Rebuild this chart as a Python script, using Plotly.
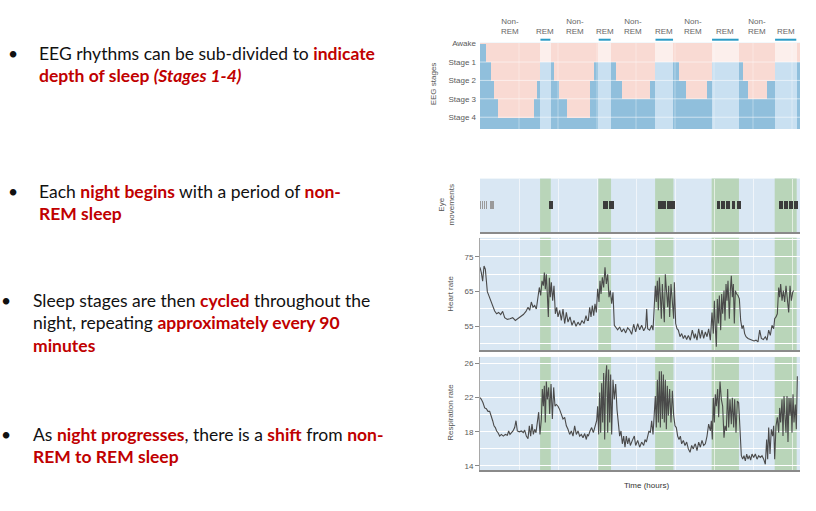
import plotly.graph_objects as go

W, H = 816, 511

# ---------------- data ----------------
# hypnogram segments (hours) and stage
hyp_start = [0.000, 0.154, 0.282, 0.359, 0.470, 1.385, 1.470, 1.540, 1.815, 1.906, 2.034, 2.239, 2.821, 2.923,
             3.034, 3.360, 3.487, 3.650, 4.359, 4.490, 4.960, 5.111, 5.274, 5.829, 5.940, 6.640, 6.752, 6.880,
             7.368, 7.556, 8.120]
hyp_end = hyp_start[1:] + [8.205]
hyp_stage = ["Awake", "S1", "S2", "S3", "S4", "S3", "S2", "REM", "S1", "S2", "S3", "S4", "S2", "S1",
             "REM", "S1", "S2", "S3", "S2", "REM", "S1", "S2", "S3", "S2", "REM", "S1", "S2", "S3",
             "S2", "REM", "S1"]
stage_level = {"Awake": 4, "S1": 3, "S2": 2, "S3": 1, "S4": 0, "REM": 3}
stage_ticks = ["Awake", "Stage 1", "Stage 2", "Stage 3", "Stage 4"]
stage_tickvals = [4, 3, 2, 1, 0]

rem_start = [1.540, 3.034, 4.490, 5.940, 7.556]
rem_end = [1.815, 3.360, 4.960, 6.640, 8.120]

# eye movement bursts (hours)
eye_faint = [(0.01, 0.025), (0.06, 0.075), (0.11, 0.125), (0.16, 0.175), (0.27, 0.285), (0.32, 0.335)]
eye_bursts = [(1.77, 1.86), (3.16, 3.28), (3.30, 3.43), (4.57, 4.76), (4.79, 4.99),
              (6.08, 6.15), (6.18, 6.27), (6.30, 6.42), (6.45, 6.55), (6.58, 6.70),
              (7.66, 7.76), (7.79, 7.90), (7.93, 8.03), (8.06, 8.16)]

heart_rate = [
    (0.000, 72.0), (0.034, 70.5), (0.068, 68.0), (0.103, 72.4), (0.137, 71.5), (0.162, 67.0), (0.188, 65.0),
    (0.222, 64.0), (0.256, 62.9), (0.291, 62.0), (0.325, 60.5), (0.376, 59.4), (0.427, 58.6), (0.479, 59.0),
    (0.530, 58.4), (0.581, 59.3), (0.632, 57.5), (0.701, 57.0), (0.769, 57.2), (0.838, 57.5), (0.906, 56.7),
    (0.974, 57.2), (1.043, 57.9), (1.111, 58.4), (1.179, 59.3), (1.231, 60.5), (1.274, 59.6), (1.316, 62.0),
    (1.359, 60.5), (1.402, 61.0), (1.444, 60.0), (1.487, 62.9), (1.521, 66.2), (1.556, 63.9), (1.590, 68.1),
    (1.624, 66.7), (1.650, 70.5), (1.675, 65.7), (1.701, 70.0), (1.726, 64.3), (1.752, 57.7), (1.778, 69.0),
    (1.803, 63.4), (1.829, 67.7), (1.863, 62.4), (1.897, 66.7), (1.932, 58.6), (1.966, 60.5), (2.000, 57.7),
    (2.043, 59.6), (2.085, 56.7), (2.128, 60.0), (2.171, 55.8), (2.214, 59.0), (2.256, 56.2), (2.308, 57.7),
    (2.359, 55.3), (2.410, 56.7), (2.462, 55.0), (2.513, 56.2), (2.564, 55.3), (2.615, 56.7), (2.667, 55.8),
    (2.718, 58.1), (2.752, 56.7),
    (2.778, 56.7), (2.812, 60.5), (2.846, 57.7), (2.880, 61.0), (2.915, 58.1), (2.949, 61.5), (2.983, 59.0),
    (3.017, 65.8), (3.051, 62.0), (3.077, 68.1), (3.103, 64.3), (3.137, 69.1), (3.171, 66.2), (3.205, 72.0),
    (3.239, 67.2), (3.274, 70.0), (3.308, 63.4), (3.342, 65.3), (3.376, 61.5), (3.410, 64.8), (3.444, 55.3),
    (3.479, 54.6), (3.530, 54.0), (3.581, 54.8), (3.632, 53.4), (3.684, 54.3), (3.735, 53.1), (3.786, 54.6),
    (3.838, 53.9), (3.889, 52.7), (3.940, 55.6), (3.991, 53.4), (4.043, 55.8), (4.094, 54.0), (4.145, 55.3),
    (4.197, 53.7), (4.248, 54.8), (4.274, 60.0), (4.299, 54.3), (4.350, 53.9), (4.402, 55.3), (4.436, 53.9),
    (4.470, 60.0), (4.496, 66.7), (4.521, 62.0), (4.547, 68.1), (4.573, 59.6), (4.598, 69.1), (4.624, 63.9),
    (4.650, 57.2), (4.675, 67.2), (4.701, 62.9), (4.726, 56.2), (4.752, 70.0), (4.786, 65.3), (4.812, 60.5),
    (4.838, 66.7), (4.863, 57.7), (4.897, 67.2), (4.932, 62.4), (4.966, 57.2), (4.983, 67.7), (5.017, 55.8),
    (5.051, 54.3), (5.085, 53.9), (5.128, 52.0), (5.171, 52.9), (5.214, 51.5), (5.256, 52.4), (5.299, 51.2),
    (5.342, 52.4), (5.393, 51.0), (5.444, 53.9), (5.496, 51.5),
    (5.521, 52.9), (5.564, 51.0), (5.607, 54.3), (5.650, 51.5), (5.692, 53.9), (5.735, 51.5), (5.778, 53.4),
    (5.821, 52.0), (5.863, 54.3), (5.906, 51.0), (5.949, 59.0), (5.983, 52.9), (6.009, 62.4), (6.034, 54.8),
    (6.060, 49.1), (6.085, 62.9), (6.111, 55.8), (6.137, 63.9), (6.171, 53.9), (6.197, 64.3), (6.222, 58.6),
    (6.256, 65.3), (6.282, 56.7), (6.308, 67.2), (6.333, 62.4), (6.359, 68.1), (6.393, 57.2), (6.419, 65.3),
    (6.444, 69.6), (6.470, 63.4), (6.496, 67.2), (6.521, 55.8), (6.547, 65.3), (6.581, 64.3), (6.615, 63.9),
    (6.650, 62.9), (6.684, 56.7), (6.718, 54.3), (6.752, 55.3), (6.786, 52.9), (6.821, 52.0), (6.872, 51.5),
    (6.923, 51.2), (6.974, 51.0), (7.026, 50.8), (7.077, 51.0), (7.128, 50.5), (7.171, 53.9), (7.214, 51.5),
    (7.265, 51.2), (7.316, 52.0), (7.359, 51.0), (7.402, 53.9), (7.444, 52.4), (7.487, 55.3), (7.530, 54.3),
    (7.556, 57.2), (7.590, 57.7), (7.624, 58.6), (7.658, 66.2), (7.684, 63.4), (7.709, 67.2), (7.744, 62.4),
    (7.778, 65.3), (7.812, 62.0), (7.846, 66.7), (7.880, 62.9), (7.915, 59.0), (7.949, 66.7), (7.983, 62.4),
    (8.017, 64.8), (8.043, 65.3),
]

respiration = [
    (0.000, 22.0), (0.034, 21.8), (0.077, 21.4), (0.120, 20.8), (0.162, 20.7), (0.205, 20.4), (0.248, 20.4),
    (0.291, 19.9), (0.325, 19.3), (0.359, 18.7), (0.393, 18.5), (0.427, 18.1), (0.462, 17.9), (0.504, 17.5),
    (0.547, 17.7), (0.598, 17.5), (0.650, 17.7), (0.701, 17.6), (0.735, 18.1), (0.769, 17.7), (0.803, 17.9),
    (0.846, 18.1), (0.889, 18.5), (0.923, 19.3), (0.957, 18.1), (1.009, 18.0), (1.060, 18.1), (1.111, 17.9),
    (1.145, 18.2), (1.188, 17.5), (1.231, 17.2), (1.265, 18.7), (1.299, 17.5), (1.333, 18.9), (1.368, 17.7),
    (1.402, 18.3), (1.436, 17.9), (1.470, 19.3), (1.504, 20.3), (1.538, 17.7), (1.573, 19.5), (1.598, 23.0),
    (1.624, 21.0), (1.650, 23.4), (1.675, 19.1), (1.701, 23.9), (1.726, 21.8), (1.761, 23.2), (1.786, 20.1),
    (1.821, 23.6), (1.855, 19.5), (1.889, 23.2), (1.923, 21.0), (1.957, 21.2), (2.000, 21.0), (2.043, 20.6),
    (2.085, 20.1), (2.128, 19.5), (2.171, 19.7), (2.214, 18.7), (2.256, 18.3), (2.299, 17.7), (2.342, 18.1),
    (2.385, 17.5), (2.427, 18.7), (2.470, 17.7), (2.513, 18.1), (2.556, 17.5), (2.598, 17.7), (2.641, 17.3),
    (2.684, 17.8), (2.726, 17.1), (2.752, 17.7),
    (2.778, 17.5), (2.821, 18.1), (2.863, 18.5), (2.906, 17.9), (2.949, 18.5), (2.991, 19.3), (3.017, 21.0),
    (3.043, 17.7), (3.068, 22.6), (3.094, 17.9), (3.120, 23.7), (3.145, 19.1), (3.171, 24.9), (3.197, 17.1),
    (3.222, 24.3), (3.248, 25.8), (3.274, 17.9), (3.299, 25.3), (3.325, 19.1), (3.350, 24.7), (3.376, 17.7),
    (3.410, 24.1), (3.444, 21.8), (3.479, 23.6), (3.513, 20.6), (3.547, 18.7), (3.581, 17.5), (3.615, 18.1),
    (3.650, 16.6), (3.684, 17.5), (3.718, 16.2), (3.752, 17.5), (3.786, 16.6), (3.821, 17.3), (3.855, 16.4),
    (3.906, 17.0), (3.957, 17.5), (3.991, 16.4), (4.043, 17.0), (4.094, 16.2), (4.145, 16.8), (4.197, 16.4),
    (4.231, 17.1), (4.265, 16.8), (4.299, 17.5), (4.333, 18.1), (4.368, 17.9), (4.402, 19.3), (4.436, 17.7),
    (4.470, 20.1), (4.496, 22.2), (4.521, 18.5), (4.547, 24.1), (4.573, 19.1), (4.598, 25.1), (4.624, 18.5),
    (4.650, 25.1), (4.675, 19.5), (4.701, 24.7), (4.726, 19.1), (4.752, 24.1), (4.778, 18.3), (4.803, 23.4),
    (4.829, 19.9), (4.863, 23.0), (4.897, 19.1), (4.932, 22.8), (4.966, 19.9), (5.000, 18.7), (5.034, 18.5),
    (5.068, 17.5), (5.103, 17.1), (5.137, 17.5), (5.171, 16.6), (5.214, 17.0), (5.256, 16.4), (5.299, 16.8),
    (5.342, 16.0), (5.385, 15.6), (5.427, 16.4), (5.470, 16.0), (5.496, 16.4),
    (5.521, 16.6), (5.564, 15.8), (5.607, 16.8), (5.650, 16.2), (5.692, 17.0), (5.735, 16.4), (5.778, 16.6),
    (5.821, 17.5), (5.863, 18.9), (5.906, 18.1), (5.932, 19.3), (5.957, 17.1), (5.983, 22.0), (6.009, 19.1),
    (6.034, 22.4), (6.060, 21.0), (6.094, 23.0), (6.120, 19.7), (6.154, 23.9), (6.188, 21.8), (6.222, 21.0),
    (6.256, 17.3), (6.282, 18.7), (6.316, 18.1), (6.350, 23.0), (6.376, 18.5), (6.410, 21.8), (6.444, 18.9),
    (6.470, 22.0), (6.504, 18.5), (6.530, 21.8), (6.564, 17.9), (6.598, 21.6), (6.632, 21.4), (6.667, 17.9),
    (6.701, 15.2), (6.735, 14.8), (6.769, 15.2), (6.803, 14.6), (6.838, 15.4), (6.872, 14.8), (6.906, 15.2),
    (6.940, 14.7), (6.974, 15.4), (7.017, 15.0), (7.060, 15.4), (7.103, 14.8), (7.145, 15.2), (7.188, 15.0),
    (7.231, 15.2), (7.274, 14.8), (7.316, 14.2), (7.350, 17.1), (7.376, 14.8), (7.402, 18.5), (7.436, 15.4),
    (7.470, 18.3), (7.504, 17.5), (7.530, 18.7), (7.556, 14.8), (7.590, 18.7), (7.624, 19.7), (7.658, 17.9),
    (7.684, 20.8), (7.709, 19.1), (7.744, 21.8), (7.769, 17.5), (7.795, 22.2), (7.821, 19.7), (7.846, 17.9),
    (7.872, 22.2), (7.897, 16.8), (7.923, 22.0), (7.949, 19.9), (7.974, 22.0), (8.000, 17.9), (8.026, 22.4),
    (8.051, 19.1), (8.085, 21.2), (8.111, 18.3), (8.137, 24.5),
]

hr_ticks = [55, 65, 75]
resp_ticks = [14, 18, 22, 26]

# ---------------- styling ----------------
X_RANGE = [0, 8.205]
EEG_RANGE = [-0.64, 4.05]
HR_RANGE = [48.1, 80.5]
RESP_RANGE = [13.53, 26.77]

BLUE = "#90bfdc"
BLUE_REM = "#c9e0f1"
PINK = "#f9dad3"
PINK_REM = "#fcefec"
PANEL_BG = "#d9e7f3"
GREEN = "#b9d5b9"
TRACE = "#4a4a4a"
RED = "#c00000"
GRAY_TXT = "#5a5a5a"
SANS = "Liberation Sans, Arial, sans-serif"

def px_x(px):
    return px / W

def px_y(py):
    return 1 - py / H

fig = go.Figure()

# ---- EEG hypnogram (bars) ----
mids = [(s + e) / 2 for s, e in zip(hyp_start, hyp_end)]
durs = [e - s for s, e in zip(hyp_start, hyp_end)]
levels = [stage_level[s] for s in hyp_stage]
blue_cols = [BLUE_REM if s == "REM" else BLUE for s in hyp_stage]
pink_cols = [PINK_REM if s == "REM" else PINK for s in hyp_stage]
fig.add_trace(go.Bar(x=mids, width=durs, base=[EEG_RANGE[0]] * len(levels),
                     y=[lv - EEG_RANGE[0] for lv in levels], marker=dict(color=blue_cols, line_width=0),
                     xaxis="x", yaxis="y", hoverinfo="skip", showlegend=False))
fig.add_trace(go.Bar(x=mids, width=durs, base=levels,
                     y=[EEG_RANGE[1] - lv for lv in levels], marker=dict(color=pink_cols, line_width=0),
                     xaxis="x", yaxis="y", hoverinfo="skip", showlegend=False))

# ---- eye movements ----
fig.add_trace(go.Bar(x=[(a + b) / 2 for a, b in eye_faint], width=[b - a for a, b in eye_faint],
                     base=[0.44] * len(eye_faint), y=[0.15] * len(eye_faint),
                     marker=dict(color="#9a9a9a", line_width=0), xaxis="x2", yaxis="y2",
                     hoverinfo="skip", showlegend=False))
fig.add_trace(go.Bar(x=[(a + b) / 2 for a, b in eye_bursts], width=[b - a for a, b in eye_bursts],
                     base=[0.44] * len(eye_bursts), y=[0.15] * len(eye_bursts),
                     marker=dict(color="#3c3c3c", line_width=0), xaxis="x2", yaxis="y2",
                     hoverinfo="skip", showlegend=False))

# ---- heart rate / respiration ----
fig.add_trace(go.Scatter(x=[p[0] for p in heart_rate], y=[p[1] for p in heart_rate], mode="lines",
                         line=dict(color=TRACE, width=1.1), xaxis="x3", yaxis="y3",
                         hoverinfo="skip", showlegend=False))
fig.add_trace(go.Scatter(x=[p[0] for p in respiration], y=[p[1] for p in respiration], mode="lines",
                         line=dict(color=TRACE, width=1.1), xaxis="x4", yaxis="y4",
                         hoverinfo="skip", showlegend=False))

shapes = []
# REM green bands in lower panels
for xa, ya in [("x2", "y2"), ("x3", "y3"), ("x4", "y4")]:
    for s, e in zip(rem_start, rem_end):
        shapes.append(dict(type="rect", xref=xa, yref=ya + " domain", x0=s, x1=e, y0=0, y1=1,
                           fillcolor=GREEN, line_width=0, layer="below"))
# faint stage lines and hour lines over hypnogram
for lv in stage_tickvals[1:]:
    shapes.append(dict(type="line", xref="x", yref="y", x0=X_RANGE[0], x1=X_RANGE[1], y0=lv, y1=lv,
                       line=dict(color="rgba(255,255,255,0.55)", width=1), layer="above"))
for hr in range(1, 9):
    shapes.append(dict(type="line", xref="x", yref="y domain", x0=hr, x1=hr, y0=0, y1=1,
                       line=dict(color="rgba(255,255,255,0.35)", width=1), layer="above"))
# REM underlines
for s, e in zip(rem_start, rem_end):
    shapes.append(dict(type="line", xref="x", yref="paper", x0=s + 0.01, x1=e - 0.01,
                       y0=px_y(37), y1=px_y(37), line=dict(color="#2b9cc6", width=2)))

annotations = []
# Non-REM / REM labels
prev_end = 0.0
for s, e in zip(rem_start, rem_end):
    annotations.append(dict(x=(prev_end + s) / 2, xref="x", y=px_y(23.5), yref="paper",
                            text="Non-<br>REM", showarrow=False, xanchor="center", yanchor="middle",
                            font=dict(family=SANS, size=8, color="#666")))
    annotations.append(dict(x=(s + e) / 2, xref="x", y=px_y(29), yref="paper",
                            text="REM", showarrow=False, xanchor="center", yanchor="middle",
                            font=dict(family=SANS, size=8, color="#666")))
    prev_end = e

# axis titles
for text, x, y in [("EEG stages", 433, 82), ("Eye<br>movements", 446, 203),
                   ("Heart rate", 451, 293), ("Respiration rate", 451, 413)]:
    annotations.append(dict(x=px_x(x), y=px_y(y), xref="paper", yref="paper", text=text, textangle=-90,
                            showarrow=False, xanchor="center", yanchor="middle",
                            font=dict(family=SANS, size=8, color="#555")))
annotations.append(dict(x=px_x(646), y=px_y(486), xref="paper", yref="paper", text="Time (hours)",
                        showarrow=False, xanchor="center", yanchor="middle",
                        font=dict(family=SANS, size=8, color="#333")))

# left-hand bullet text
def red(t):
    return f"<span style='color:{RED}'><b>{t}</b></span>"

bullets = [
    (13, 51, ["EEG rhythms can be sub-divided to " + red("indicate"),
              red("depth of sleep <i>(Stages 1-4)</i>")], 37),
    (13, 190, ["Each " + red("night begins") + " with a period of " + red("non-"),
               red("REM sleep")], 37),
    (6, 300, ["Sleep stages are then " + red("cycled") + " throughout the",
              "night, repeating " + red("approximately every 90"),
              red("minutes")], 31),
    (6, 435, ["As " + red("night progresses") + ", there is a " + red("shift") + " from " + red("non-"),
              red("REM to REM sleep")], 31),
]
TXT_FONT = dict(family="Lato, Carlito, sans-serif", size=17.5, color="#111")
for bx, by, lines, tx in bullets:
    annotations.append(dict(x=px_x(bx), y=px_y(by), xref="paper", yref="paper", text="•",
                            showarrow=False, xanchor="center", yanchor="middle", font=TXT_FONT))
    for i, ln in enumerate(lines):
        annotations.append(dict(x=px_x(tx), y=px_y(by + 22.5 * i), xref="paper", yref="paper",
                                text=ln, showarrow=False, xanchor="left", yanchor="middle", font=TXT_FONT))

XDOM = [px_x(480), px_x(800)]
common_x = dict(range=X_RANGE, domain=XDOM, showticklabels=False, ticks="", zeroline=False,
                dtick=1, tick0=0)
tickfont = dict(family=SANS, size=8, color=GRAY_TXT)

fig.update_layout(
    width=W, height=H, margin=dict(l=0, r=0, t=0, b=0),
    paper_bgcolor="white", plot_bgcolor=PANEL_BG,
    barmode="overlay", bargap=0, showlegend=False,
    xaxis=dict(**common_x, anchor="y", showgrid=False),
    yaxis=dict(domain=[px_y(127), px_y(40)], range=EEG_RANGE, tickvals=stage_tickvals, ticktext=stage_ticks,
               tickfont=tickfont, showgrid=False, zeroline=False, ticks="", ticklabelstandoff=3),
    xaxis2=dict(**common_x, anchor="y2", showgrid=True, gridcolor="rgba(255,255,255,0.6)", gridwidth=1,
                showline=True, linecolor="#8a8a8a", linewidth=1.5),
    yaxis2=dict(domain=[px_y(231), px_y(177)], range=[0, 1], showticklabels=False, showgrid=False,
                zeroline=False, ticks=""),
    xaxis3=dict(**common_x, anchor="y3", showgrid=True, gridcolor="rgba(255,255,255,0.6)", gridwidth=1,
                showline=True, linecolor="#8a8a8a", linewidth=1.5),
    yaxis3=dict(domain=[px_y(350), px_y(236.7)], range=HR_RANGE, tickvals=hr_ticks, tickfont=tickfont,
                showgrid=True, gridcolor="white", gridwidth=1, zeroline=False,
                ticks="outside", ticklen=4, tickcolor="#888", showline=True, linecolor="#a8a8a8",
                minor=dict(dtick=5, tick0=0, showgrid=True, gridcolor="white", ticks="")),
    xaxis4=dict(**common_x, anchor="y4", showgrid=True, gridcolor="rgba(255,255,255,0.6)", gridwidth=1,
                showline=True, linecolor="#8a8a8a", linewidth=1.5),
    yaxis4=dict(domain=[px_y(470.7), px_y(356.7)], range=RESP_RANGE, tickvals=resp_ticks, tickfont=tickfont,
                showgrid=True, gridcolor="white", gridwidth=1, zeroline=False,
                ticks="outside", ticklen=4, tickcolor="#888", showline=True, linecolor="#a8a8a8",
                minor=dict(dtick=2, tick0=0, showgrid=True, gridcolor="white", ticks="")),
    shapes=shapes, annotations=annotations,
)

fig.write_html("out.html", config={"displayModeBar": False},
               post_script="document.body.style.margin='0px';document.body.style.overflow='hidden';")
